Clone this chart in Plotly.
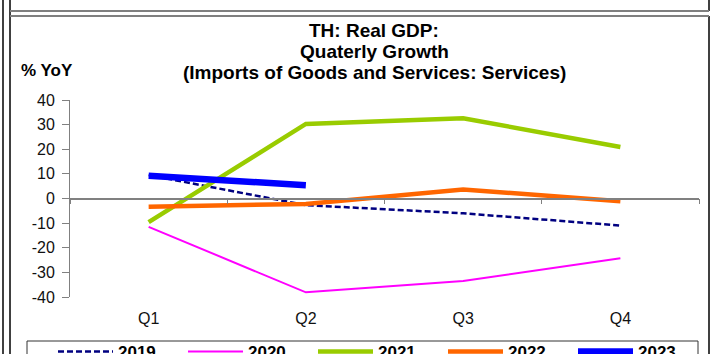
import plotly.graph_objects as go

quarters = ['Q1', 'Q2', 'Q3', 'Q4']
y2019 = [9.5, -2.7, -6.0, -11.0]
y2020 = [-11.5, -38.1, -33.5, -24.3]
y2021 = [-9.6, 30.3, 32.6, 20.9]
y2022 = [-3.3, -2.2, 3.7, -1.1]
y2023 = [9.2, 5.4]
ytickvals = [40, 30, 20, 10, 0, -10, -20, -30, -40]
yticktext = ['40', '30', '20', '10', '0', '-10', '-20', '-30', '-40']
title_lines = ['TH: Real GDP:', 'Quaterly Growth', '(Imports of Goods and Services: Services)']

# plot area in pixels (712x354 page)
L, R, T, B = 70, 699, 100, 297
def px(X):
	return (X - L) / (R - L)
def py(Y):
	return (B - Y) / (B - T)

font = 'Liberation Sans, Arial, sans-serif'

fig = go.Figure()
fig.add_trace(go.Scatter(x=quarters, y=y2019, name='2019', mode='lines',
	line=dict(color='#000080', width=2.5, dash='6px,3px')))
fig.add_trace(go.Scatter(x=quarters, y=y2020, name='2020', mode='lines',
	line=dict(color='#FF00FF', width=2)))
fig.add_trace(go.Scatter(x=quarters, y=y2021, name='2021', mode='lines',
	line=dict(color='#99CC00', width=4.5)))
fig.add_trace(go.Scatter(x=quarters, y=y2022, name='2022', mode='lines',
	line=dict(color='#FF6600', width=4.5)))
fig.add_trace(go.Scatter(x=quarters[:len(y2023)], y=y2023, name='2023', mode='lines',
	line=dict(color='#0000FF', width=6.5)))

fig.update_layout(
	width=712, height=354,
	margin=dict(l=L, r=712 - R, t=T, b=354 - B, autoexpand=False),
	paper_bgcolor='white', plot_bgcolor='white',
	font=dict(family=font, color='black', size=16),
	showlegend=True,
	legend=dict(
		orientation='h', x=px(53), y=py(334), xanchor='left', yanchor='top',
		borderwidth=0, bgcolor='rgba(0,0,0,0)',
		font=dict(size=17, family=font, weight='bold'),
		itemwidth=55, entrywidth=60, entrywidthmode='pixels',
		traceorder='normal',
		),
	xaxis=dict(
		type='category', range=[-0.5, 3.5], anchor='free', position=0.5,
		showline=True, linecolor='#808080', linewidth=1.5,
		ticks='outside', tickson='boundaries', ticklen=5, tickcolor='#808080',
		showgrid=False, zeroline=False, ticklabelstandoff=106,
		tickfont=dict(size=16, color='#111111'),
		),
	yaxis=dict(
		range=[-40, 40], tickvals=ytickvals, ticktext=yticktext,
		showline=True, linecolor='#808080', linewidth=1,
		ticks='outside', ticklen=7, tickcolor='#808080',
		showgrid=False, zeroline=False, ticklabelstandoff=4,
		tickfont=dict(size=16, color='#111111'),
		),
	)

for i, line in enumerate(title_lines):
	fig.add_annotation(
		x=px(374), y=py(31 + 21 * i), xref='paper', yref='paper', showarrow=False,
		text='<b>' + line + '</b>', font=dict(size=19, family=font),
		xanchor='center', yanchor='middle',
		)
fig.add_annotation(
	x=px(47), y=py(71), xref='paper', yref='paper', showarrow=False,
	text='<b>% YoY</b>', font=dict(size=17, family=font),
	xanchor='center', yanchor='middle',
	)

# legend box (drawn separately so entries can sit inside it like the original)
fig.add_shape(type='rect', xref='paper', yref='paper',
	x0=px(27), y0=py(341), x1=px(698), y1=py(370),
	line=dict(color='#333333', width=1), fillcolor='rgba(0,0,0,0)', layer='below')

# frame lines around the chart
frame = [
	(3, 0, 3, 354, 'black', 1.5),
	(10, 0, 10, 354, 'black', 1.5),
	(709, 0, 709, 11, 'black', 1.5),
	(709, 16, 709, 354, 'black', 1.5),
	(10, 11, 709, 11, '#7f7f7f', 2),
	(10, 16, 709, 16, '#7f7f7f', 2),
	]
for x0, y0, x1, y1, c, w in frame:
	fig.add_shape(type='line', xref='paper', yref='paper',
		x0=px(x0), y0=py(y0), x1=px(x1), y1=py(y1),
		line=dict(color=c, width=w), layer='above')

fig.write_html('out.html', config={'displayModeBar': False},
	post_script="document.body.style.margin='0px';")
